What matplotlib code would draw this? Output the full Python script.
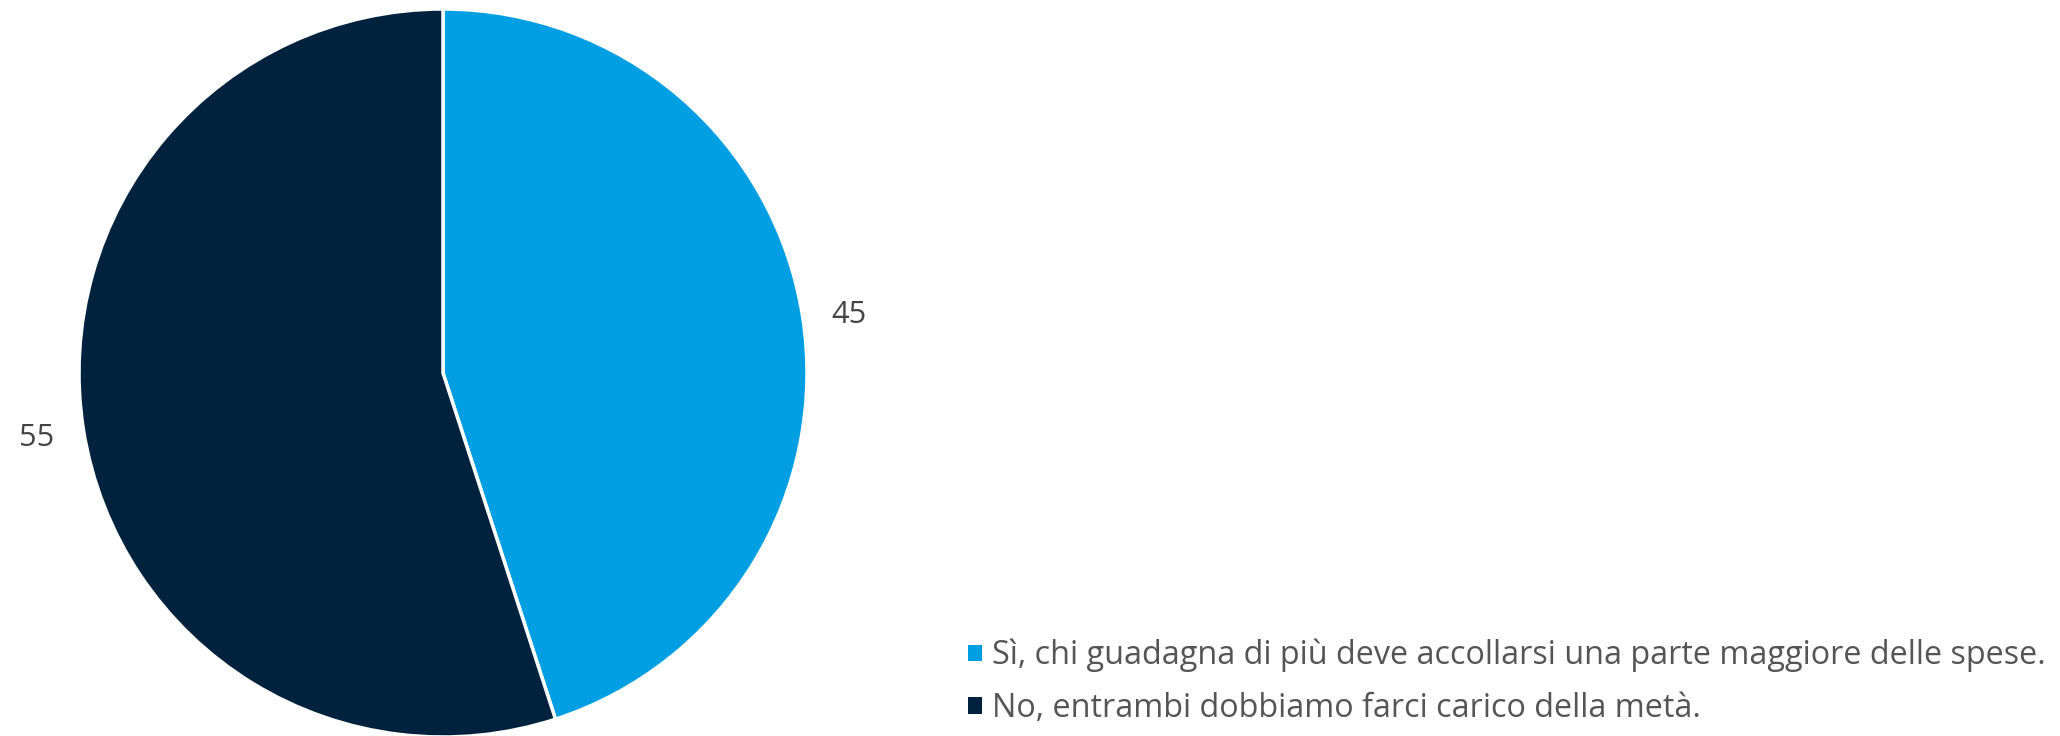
import matplotlib
matplotlib.use("Agg")
import matplotlib.pyplot as plt
from matplotlib.patches import Patch

categories = ["Sì, chi guadagna di più deve accollarsi una parte maggiore delle spese.",
              "No, entrambi dobbiamo farci carico della metà."]
values = [45, 55]
value_labels = ["45", "55"]
colors = ["#009FE3", "#00223F"]

plt.rcParams['font.family'] = ['Open Sans', 'DejaVu Sans']

W, H = 2060, 736
CX, CY = 443, H - 373
fig = plt.figure(figsize=(W / 100, H / 100), dpi=100)
ax = fig.add_axes([0, 0, 1, 1])

# fit legend font size so the first line spans ~1057 px
renderer = fig.canvas.get_renderer()
t = fig.text(0, 0, categories[0], fontsize=10)
w10 = t.get_window_extent(renderer).width
t.remove()
fs = 10 * 1057 / w10

wedges, texts = ax.pie(values, labels=value_labels, colors=colors,
                       startangle=90, counterclock=False,
                       center=(CX, CY), radius=364,
                       labeldistance=1.08,
                       wedgeprops=dict(edgecolor='white', linewidth=2.5),
                       textprops=dict(fontsize=fs * 0.95, color='#444444'))
for tx in texts:
    x, y = tx.get_position()
    tx.set_ha('left' if x > CX else 'right')
    tx.set_va('center_baseline')
ax.set_xlim(0, W)
ax.set_ylim(0, H)
ax.set_aspect('equal')
ax.axis('off')

handles = [Patch(facecolor=c, edgecolor='none') for c in colors]
fig.legend(handles, categories, loc='upper left',
           bbox_to_anchor=(968 / W, 1 - 639 / H),
           frameon=False, fontsize=fs, labelcolor='#555555',
           handlelength=0.42, handleheight=0.42, handletextpad=0.33,
           labelspacing=0.6, borderpad=0, borderaxespad=0)

fig.savefig("out.png", dpi=100)
